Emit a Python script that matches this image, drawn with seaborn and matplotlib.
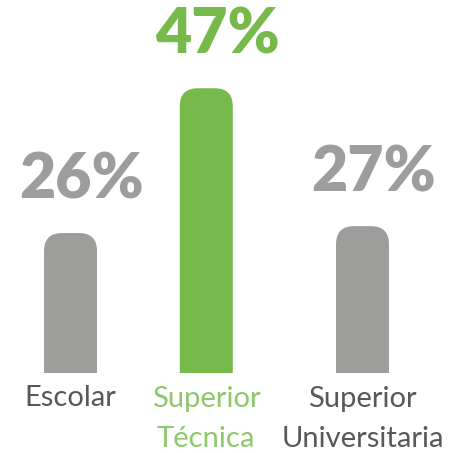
import numpy as np
import pandas as pd
import seaborn as sns
import matplotlib.pyplot as plt
from matplotlib.patches import FancyBboxPatch

# data
categories = ['Escolar', 'Superior\nTécnica', 'Superior\nUniversitaria']
values = [26, 47, 27]
highlight = 'Superior\nTécnica'

# layout / styling
slots = [0, 0.93, 2]  # columns in the original are not evenly spaced
GREY = '#9d9d9c'
GREEN = '#77b94a'
LABEL_GREY = '#58585a'
LABEL_GREEN = '#8dc86a'

sns.set_theme(style='white')
plt.rcParams['font.family'] = ['Lato', 'DejaVu Sans']

fig = plt.figure(figsize=(4.58, 4.53), dpi=100)
ax = fig.add_axes([0, 80 / 453, 1, 373 / 453])

df = pd.DataFrame({'slot': slots, 'cat': categories, 'value': values})
colors = [GREEN if c == highlight else GREY for c in categories]
sns.barplot(df, x='slot', y='value', hue='cat', palette=colors, native_scale=True,
            width=0.39, legend=False, saturation=1, ax=ax)

ax.set_xlim(-0.483, 2.654)
ax.set_ylim(5.7, 59.8)

# swap the square bars for ones with rounded tops
t0 = ax.transData.transform((0, 0))
t1 = ax.transData.transform((1, 1))
px_x = t1[0] - t0[0]
px_y = t1[1] - t0[1]
aspect = px_x / px_y
radius = 18 / px_x
for p in list(ax.patches):
    x, y = p.get_x(), p.get_y()
    w, h = p.get_width(), p.get_height()
    fc = p.get_facecolor()
    p.remove()
    ax.add_patch(FancyBboxPatch((x, y), w, h,
                                boxstyle=f'round,pad=0,rounding_size={radius}',
                                mutation_aspect=aspect, fc=fc, ec='none'))

for s, v, c in zip(slots, values, categories):
    ax.annotate(f'{v}%', (s, v), xytext=(8, 25), textcoords='offset points',
                ha='center', va='baseline', fontsize=45, fontweight='heavy',
                color=GREEN if c == highlight else GREY)

ax.set_xticks(slots, categories)
for lab, c in zip(ax.get_xticklabels(), categories):
    lab.set_color(LABEL_GREEN if c == highlight else LABEL_GREY)
    lab.set_fontsize(21)
    lab.set_linespacing(1.7)
ax.tick_params(axis='x', length=0, pad=9)
ax.set_yticks([])
ax.set_xlabel('')
ax.set_ylabel('')
sns.despine(ax=ax, left=True, bottom=True)

fig.savefig('out.png', dpi=100)
